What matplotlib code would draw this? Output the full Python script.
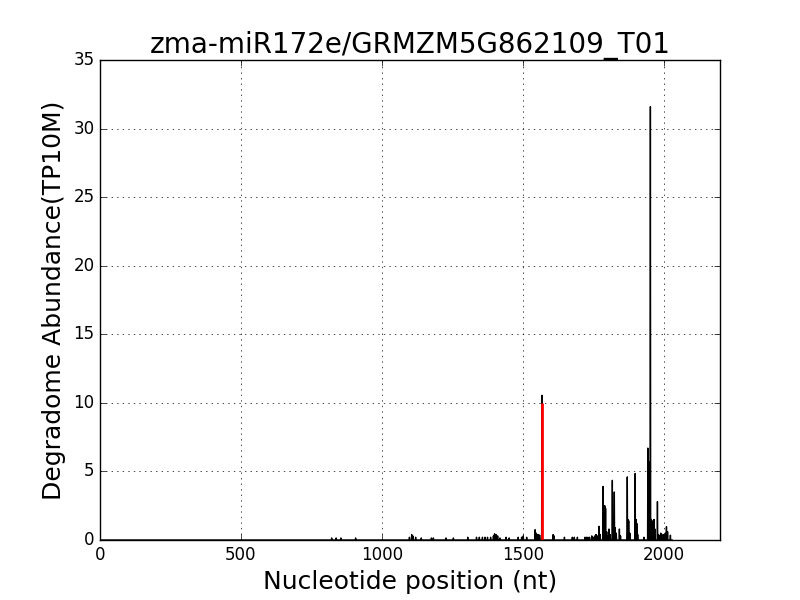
import numpy as np
import matplotlib
matplotlib.use('Agg')
import matplotlib.pyplot as plt

plt.style.use('classic')

# degradome peaks (position, abundance)
positions = [822, 838, 855, 907, 1098, 1106, 1110, 1120, 1140, 1176, 1183, 1228, 1254,
             1305, 1336, 1346, 1357, 1366, 1375, 1386, 1396, 1400, 1405, 1411, 1419,
             1441, 1452, 1484, 1496, 1502, 1514, 1544, 1548, 1552, 1556, 1560, 1568,
             1608, 1611, 1648, 1676, 1683, 1694, 1721, 1726, 1731, 1737, 1745, 1750,
             1756, 1760, 1766, 1771, 1775, 1785, 1787, 1791, 1794, 1798, 1802, 1806,
             1810, 1818, 1820, 1825, 1828, 1832, 1843, 1847, 1871, 1873, 1876, 1880,
             1899, 1902, 1905, 1908, 1930, 1944, 1946, 1948, 1953, 1956, 1959, 1962,
             1966, 1969, 1978, 1982, 1986, 1990, 1994, 1998, 2002, 2006, 2010, 2014,
             2024]
abundance = [0.15, 0.15, 0.15, 0.15, 0.2, 0.4, 0.3, 0.2, 0.15, 0.15, 0.15, 0.15, 0.15,
             0.2, 0.2, 0.2, 0.2, 0.2, 0.2, 0.2, 0.3, 0.45, 0.4, 0.3, 0.15,
             0.2, 0.15, 0.2, 0.2, 0.3, 0.2, 0.75, 0.5, 0.4, 0.4, 0.35, 10.55,
             0.4, 0.3, 0.2, 0.2, 0.2, 0.2, 0.2, 0.2, 0.2, 0.2, 0.3, 0.2,
             0.3, 0.4, 0.3, 1.0, 0.4, 3.9, 2.0, 2.5, 2.3, 0.6, 0.3, 0.8,
             0.4, 4.35, 1.5, 3.5, 0.9, 0.5, 0.8, 0.3, 4.6, 1.5, 1.4, 0.5,
             4.85, 1.5, 1.2, 0.4, 0.2, 6.7, 5.0, 5.7, 31.6, 1.5, 1.4, 1.3,
             1.5, 0.8, 2.8, 0.4, 0.3, 0.5, 0.3, 0.4, 0.3, 0.5, 0.97, 0.6,
             0.35]

site_pos = 1567
site_value = 10.0
transcript_len = 2030

profile = np.zeros(transcript_len + 1)
profile[positions] = abundance

fig = plt.figure(figsize=(8, 6), dpi=100)
ax = fig.add_subplot(111)
ax.plot(np.arange(transcript_len + 1), profile, 'k-', linewidth=1)
ax.vlines(site_pos, 0, site_value, colors='red', linewidth=2)

ax.set_xlim(0, 2200)
ax.set_ylim(0, 35)
ax.set_xticks([0, 500, 1000, 1500, 2000])
ax.grid(True)
ax.set_title('zma-miR172e/GRMZM5G862109_T01', fontsize=20)
ax.set_xlabel('Nucleotide position (nt)', fontsize=18)
ax.set_ylabel('Degradome Abundance(TP10M)', fontsize=18)

fig.savefig('out.png', dpi=100)
